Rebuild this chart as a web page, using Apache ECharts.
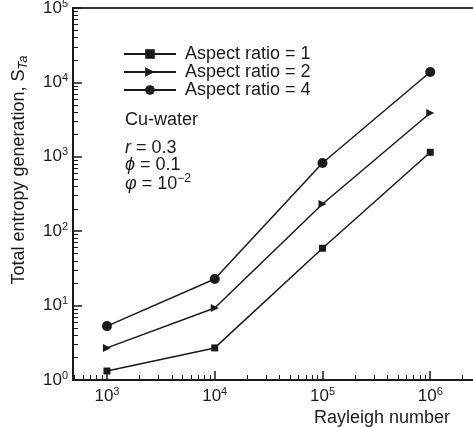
<!DOCTYPE html>
<html>
<head>
<meta charset="utf-8">
<script src="https://cdn.jsdelivr.net/npm/echarts@6/dist/echarts.min.js"></script>
<style>
  html, body { margin: 0; padding: 0; background: #fff; }
  #chart { width: 473px; height: 427px; }
</style>
</head>
<body>
<div id="chart"></div>
<script>
// values
var rayleigh = [1e3, 1e4, 1e5, 1e6];
var seriesNames = ["Aspect ratio = 1", "Aspect ratio = 2", "Aspect ratio = 4"];
var ar1 = [1.32, 2.7, 59, 1150];
var ar2 = [2.7, 9.3, 232, 3880];
var ar4 = [5.3, 22.8, 826, 13800];
var xTickExps = [3, 4, 5, 6];
var yTickExps = [0, 1, 2, 3, 4, 5];

var FONT = "Liberation Sans";
var INK = "#1a1a1a";

function pair(ys) {
  return rayleigh.map(function (x, i) { return [x, ys[i]]; });
}

function powLabel(exps) {
  return function (v) {
    var l = Math.log10(v);
    var e = Math.round(l);
    if (Math.abs(l - e) > 1e-6 || exps.indexOf(e) < 0) return "";
    return "{b|10}{s|" + e + "}";
  };
}

var tickRich = {
  b: { fontFamily: FONT, fontSize: 17, color: INK },
  s: { fontFamily: FONT, fontSize: 11, color: INK, padding: [0, 0, 9, 0] }
};

var chart = echarts.init(document.getElementById("chart"));

chart.setOption({
  animation: false,
  grid: {
    left: 73,
    top: 8,
    width: 465,
    height: 372,
    outerBoundsMode: "none",
    show: true,
    borderColor: "#333",
    borderWidth: 2
  },
  legend: {
    orient: "vertical",
    left: 123,
    top: 45,
    padding: 0,
    itemWidth: 52,
    itemHeight: 12,
    itemGap: 0,
    textStyle: { fontFamily: FONT, fontSize: 18, lineHeight: 18, color: INK, padding: [0, 0, 0, 4] },
    data: seriesNames
  },
  xAxis: {
    type: "log",
    min: 484,
    max: 1e7,
    name: "Rayleigh number",
    nameLocation: "middle",
    nameGap: 27,
    nameTextStyle: { fontFamily: FONT, fontSize: 18, color: INK, padding: [0, 0, 0, 153] },
    axisLine: { lineStyle: { color: INK, width: 2 } },
    axisTick: { inside: true, length: 9, lineStyle: { color: INK, width: 1.5 } },
    minorTick: { show: true, splitNumber: 9, length: 5, lineStyle: { color: INK, width: 1 } },
    axisLabel: { showMinLabel: false, showMaxLabel: false, margin: 6, formatter: powLabel(xTickExps), rich: tickRich },
    splitLine: { show: false }
  },
  yAxis: {
    type: "log",
    min: 1,
    max: 1e5,
    name: "Total entropy generation, {s|S}{sub|Ta}",
    nameLocation: "middle",
    nameGap: 43,
    nameRotate: 90,
    nameTextStyle: {
      fontFamily: FONT, fontSize: 18, color: INK, padding: [0, 0, 0, 48],
      rich: {
        s: { fontFamily: FONT, fontSize: 18, color: INK },
        sub: { fontFamily: FONT, fontSize: 13, color: INK, fontStyle: "italic", padding: [8, 0, 0, 0] }
      }
    },
    axisLine: { lineStyle: { color: INK, width: 2 } },
    axisTick: { inside: true, length: 9, lineStyle: { color: INK, width: 1.5 } },
    minorTick: { show: true, splitNumber: 9, length: 5, lineStyle: { color: INK, width: 1 } },
    axisLabel: { margin: 5, formatter: powLabel(yTickExps), rich: tickRich },
    splitLine: { show: false }
  },
  graphic: [
    {
      type: "group",
      left: 125,
      top: 111,
      children: [
        { type: "text", x: 0, y: 0, style: { text: "Cu-water", font: "18px " + FONT, fill: INK } },
        {
          type: "text", x: 0, y: 28,
          style: {
            text: "{i|r} = 0.3", font: "18px " + FONT, fill: INK,
            rich: { i: { fontStyle: "italic", fontFamily: FONT, fontSize: 18, color: INK } }
          }
        },
        {
          type: "text", x: 0, y: 45,
          style: {
            text: "{i|\u03d5} = 0.1", font: "18px " + FONT, fill: INK,
            rich: { i: { fontStyle: "italic", fontFamily: FONT, fontSize: 18, color: INK } }
          }
        },
        {
          type: "text", x: 0, y: 62,
          style: {
            text: "{i|\u03c6} = 10{s|\u22122}", font: "18px " + FONT, fill: INK,
            rich: {
              i: { fontStyle: "italic", fontFamily: FONT, fontSize: 18, color: INK },
              s: { fontFamily: FONT, fontSize: 12, color: INK, padding: [0, 0, 10, 0] }
            }
          }
        }
      ]
    }
  ],
  series: [
    {
      name: seriesNames[0],
      type: "line",
      data: pair(ar1),
      symbol: "rect",
      symbolSize: 7,
      itemStyle: { color: INK },
      lineStyle: { color: INK, width: 1.5 }
    },
    {
      name: seriesNames[1],
      type: "line",
      data: pair(ar2),
      symbol: "triangle",
      symbolRotate: -90,
      symbolSize: 8,
      itemStyle: { color: INK },
      lineStyle: { color: INK, width: 1.5 }
    },
    {
      name: seriesNames[2],
      type: "line",
      data: pair(ar4),
      symbol: "circle",
      symbolSize: 10,
      itemStyle: { color: INK },
      lineStyle: { color: INK, width: 1.5 }
    }
  ]
});
</script>
</body>
</html>
